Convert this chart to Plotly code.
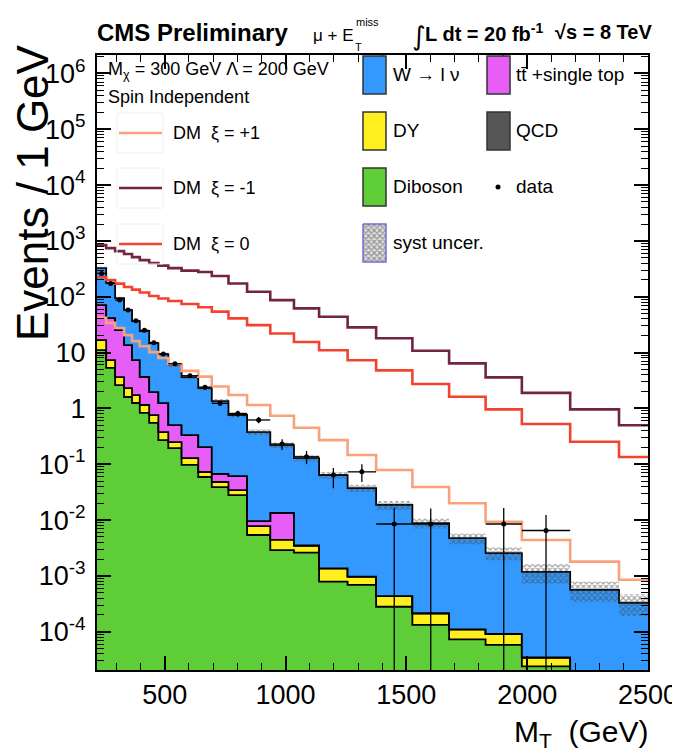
import numpy as np
import plotly.graph_objects as go

# ---------------- data ----------------
edges = [220, 258, 295, 332, 365, 397, 436, 474, 515, 570, 639, 695, 764, 841, 937,
         1035, 1139, 1257, 1375, 1525, 1677, 1828, 1978, 2178, 2380, 2580]

diboson = [11.1, 5.3, 2.6, 1.6, 1.25, 0.83, 0.55, 0.27, 0.195, 0.097, 0.059, 0.039, 0.028,
           0.0054, 0.0029, 0.0026, 0.00079, 0.00069, 0.00028, 0.000132, 0.000073, 0.000058,
           0.000024, 0.0, 0.0]
dy = [5.6, 2.05, 1.02, 0.71, 0.48, 0.32, 0.21, 0.106, 0.054, 0.032, 0.0135, 0.009, 0.0064,
      0.0024, 0.0015, 0.0009, 0.00057, 0.00028, 0.000155, 0.000082, 0.000037, 0.000033,
      0.0000105, 0.0, 0.0]
ttbar = [54, 34, 21.7, 11.3, 5.6, 2.5, 1.2, 0.87, 0.254, 0.204, 0.13, 0.019, 0.027,
         0.0018, 0.009, 0.0, 0.0, 0.0, 0.0, 0.0, 0.0, 0.0, 0.0, 0.0, 0.0]
qcd = [0.0, 0.0, 0.0, 0.0, 0.0, 0.0, 0.0, 0.0, 0.0, 0.0, 0.0, 0.0, 0.0,
       0.0, 0.0, 0.0, 0.0, 0.0, 0.0, 0.0, 0.0, 0.0, 0.0, 0.0, 0.0]
wlnu = [255, 135, 69, 44, 29.3, 20.7, 12.8, 8.15, 5.47, 3.31, 2.11, 1.28, 0.70, 0.367,
        0.207, 0.125, 0.0626, 0.0364, 0.0182, 0.0086, 0.00465, 0.00247, 0.00114, 0.00056,
        0.00033]
syst_rel = [0.06, 0.06, 0.06, 0.06, 0.06, 0.07, 0.07, 0.07, 0.08, 0.08, 0.09, 0.09, 0.10,
            0.11, 0.12, 0.13, 0.14, 0.15, 0.18, 0.20, 0.23, 0.26, 0.38, 0.40, 0.42]

data = [262, 173, 87, 58, 37, 25, 15, 9.4, 6.3, 3.85, 2.4, 1.23, 0.81, 0.62, 0.23, 0.136,
        0.064, 0.073, 0.0085, 0.0085, None, 0.0085, 0.0065, None, None]
data_err_up = [3, 2.2, 1.5, 1.3, 1.1, 0.8, 0.63, 0.48, 0.34, 0.24, 0.21, 0.13, 0.10, 0.08,
               0.05, 0.036, 0.022, 0.027, 0.0083, 0.0076, 0, 0.008, 0.0058, 0, 0]
data_err_dn = [3, 2.2, 1.5, 1.3, 1.1, 0.8, 0.63, 0.48, 0.34, 0.24, 0.21, 0.13, 0.10, 0.08,
               0.05, 0.036, 0.027, 0.025, 0.0085, 0.0085, 0, 0.0085, 0.0065, 0, 0]

dm_p1 = [42, 34, 27.5, 20.5, 16, 13, 10.2, 8, 6.2, 4.7, 3.7, 2.46, 1.74, 1.15, 0.74, 0.45,
         0.27, 0.146, 0.079, 0.039, 0.020, 0.0093, 0.0044, 0.0018, 0.00085]
dm_m1 = [841, 743, 657, 581, 513, 453, 401, 361, 326, 294, 277, 235, 173, 123, 87, 62, 43.8,
         28.3, 18, 10.8, 6.4, 3.6, 1.9, 0.96, 0.50]
dm_0 = [225, 199, 172, 149, 134, 119, 103, 93, 84, 74, 65, 54, 41, 31, 22, 15.5, 11, 7.3,
        4.8, 2.73, 1.62, 0.96, 0.525, 0.253, 0.135]

x_ticks = [500, 1000, 1500, 2000, 2500]
x_ticklabels = ["500", "1000", "1500", "2000", "2500"]
y_ticks = [1e-4, 1e-3, 1e-2, 1e-1, 1, 10, 1e2, 1e3, 1e4, 1e5, 1e6]
y_ticklabels = ["10<sup>-4</sup>", "10<sup>-3</sup>", "10<sup>-2</sup>", "10<sup>-1</sup>",
                "1", "10", "10<sup>2</sup>", "10<sup>3</sup>", "10<sup>4</sup>",
                "10<sup>5</sup>", "10<sup>6</sup>"]

# ---------------- styling ----------------
FONT = "Liberation Sans, Arial, sans-serif"
C_GREEN = "#5fcd37"
C_YELLOW = "#ffef1f"
C_MAG = "#e65ef5"
C_BLUE = "#3399ff"
C_QCD = "#555555"
C_P1 = "#f9a27a"
C_M1 = "#722445"
C_0 = "#f2432f"

# page (screenshot) pixel geometry of the plot frame; the page body has an 8px margin
OFF = 8
W_, H_ = 680 - OFF, 754 - OFF
L, R, T, B = 97, 648, 55, 670


def px(x):
    return (x - L) / (R - L)


def py(y):
    return (B - y) / (B - T)


def step(vals):
    v = [np.nan if a is None else a for a in vals]
    return v + [v[-1]]


e = np.array(edges, dtype=float)
centers = (e[:-1] + e[1:]) / 2
halfw = (e[1:] - e[:-1]) / 2

floor = 1e-10
c1 = np.array(diboson)
c2 = c1 + np.array(dy)
c3 = c2 + np.array(ttbar)
c4 = c3 + np.array(qcd)
c5 = c4 + np.array(wlnu)

fig = go.Figure()
fig.add_trace(go.Scatter(x=e, y=step(np.full(len(c1), floor)), mode="lines",
                         line=dict(width=0, shape="hv"), hoverinfo="skip"))
for cum, col in [(c1, C_GREEN), (c2, C_YELLOW), (c3, C_MAG), (c4, C_QCD), (c5, C_BLUE)]:
    fig.add_trace(go.Scatter(x=e, y=step(np.maximum(cum, floor)), mode="lines",
                             line=dict(color="black", width=1.8, shape="hv"),
                             fill="tonexty", fillcolor=col))

# systematic band
lo = c5 * (1 - np.array(syst_rel))
hi = c5 * (1 + np.array(syst_rel))
fig.add_trace(go.Scatter(x=e, y=step(lo), mode="lines", line=dict(width=0, shape="hv")))
fig.add_trace(go.Scatter(x=e, y=step(hi), mode="lines", line=dict(width=0, shape="hv"),
                         fill="tonexty", fillcolor="rgba(0,0,0,0)",
                         fillpattern=dict(shape="x", size=4, solidity=0.5,
                                          fgcolor="#444444", bgcolor="rgba(0,0,0,0)")))

# DM signal lines
for vals, col in [(dm_p1, C_P1), (dm_m1, C_M1), (dm_0, C_0)]:
    fig.add_trace(go.Scatter(x=e, y=step(vals), mode="lines",
                             line=dict(color=col, width=2.6, shape="hv")))

# data
fig.add_trace(go.Scatter(
    x=centers, y=data, mode="markers",
    marker=dict(color="black", size=5),
    error_x=dict(type="data", array=halfw, color="black", thickness=1.3, width=0),
    error_y=dict(type="data", array=data_err_up, arrayminus=data_err_dn, symmetric=False,
                 color="black", thickness=1.3, width=0)))

# ---------------- legend glyphs (helper axes = paper coordinates) ----------------
def box_xy(x0, y0, x1, y1):
    return [px(x0), px(x1), px(x1), px(x0), px(x0)], [py(y0), py(y0), py(y1), py(y1), py(y0)]


shapes = []
rows = [75, 131, 187, 243]
col1_x, col2_x = 363, 487
for (xx, yy, col) in [(col1_x, rows[0], C_BLUE), (col1_x, rows[1], C_YELLOW),
                      (col1_x, rows[2], C_GREEN), (col2_x, rows[0], C_MAG),
                      (col2_x, rows[1], C_QCD)]:
    shapes.append(dict(type="rect", xref="paper", yref="paper",
                       x0=px(xx), x1=px(xx + 23), y0=py(yy - 19), y1=py(yy + 19),
                       fillcolor=col, line=dict(color="#333333", width=1.5)))
bx, by = box_xy(col1_x, rows[3] - 19, col1_x + 23, rows[3] + 19)
fig.add_trace(go.Scatter(x=bx, y=by, xaxis="x2", yaxis="y2", mode="lines", fill="toself",
                         fillcolor="rgba(0,0,0,0)", line=dict(color="#7070d0", width=1.5),
                         fillpattern=dict(shape="x", size=4, solidity=0.5, fgcolor="#444444",
                                          bgcolor="#e0e0e0")))
fig.add_trace(go.Scatter(x=[px(498)], y=[py(187)], xaxis="x2", yaxis="y2", mode="markers",
                         marker=dict(color="black", size=5)))

dm_rows = [(133, C_P1, "DM  ξ = +1"), (188, C_M1, "DM  ξ = -1"), (244, C_0, "DM  ξ = 0")]
annotations = []
for yy, col, txt in dm_rows:
    shapes.append(dict(type="rect", xref="paper", yref="paper", x0=px(117), x1=px(163),
                       y0=py(yy - 20), y1=py(yy + 20), line=dict(color="#eeeeee", width=1),
                       fillcolor="rgba(0,0,0,0)"))
    shapes.append(dict(type="line", xref="paper", yref="paper", x0=px(119), x1=px(162),
                       y0=py(yy), y1=py(yy), line=dict(color=col, width=2.6)))
    annotations.append(dict(text=txt, x=px(171), y=py(yy), xref="paper", yref="paper",
                            xanchor="left", yanchor="middle", showarrow=False,
                            font=dict(family=FONT, size=18, color="black")))

leg_txt = [(391, rows[0], "W → l ν"), (391, rows[1], "DY"), (391, rows[2], "Diboson"),
           (391, rows[3], "syst uncer."), (514, rows[0], "tt̄ +single top"),
           (514, rows[1], "QCD"), (514, rows[2], "data")]
for xx, yy, txt in leg_txt:
    annotations.append(dict(text=txt, x=px(xx), y=py(yy), xref="paper", yref="paper",
                            xanchor="left", yanchor="middle", showarrow=False,
                            font=dict(family=FONT, size=19, color="black")))

annotations += [
    dict(text="M<sub>χ</sub> = 300 GeV Λ = 200 GeV", x=px(106), y=py(70), xanchor="left"),
    dict(text="Spin Independent", x=px(106), y=py(97), xanchor="left"),
]
for a in annotations[-2:]:
    a.update(xref="paper", yref="paper", yanchor="middle", showarrow=False,
             font=dict(family=FONT, size=18, color="black"))

top = [
    dict(text="<b>CMS Preliminary</b>", x=px(95), y=py(32), xanchor="left",
         font=dict(family=FONT, size=24, color="black")),
    dict(text="μ + E", x=px(311), y=py(35), xanchor="left",
         font=dict(family=FONT, size=17, color="black")),
    dict(text="miss", x=px(354), y=py(22), xanchor="left",
         font=dict(family=FONT, size=11, color="black")),
    dict(text="T", x=px(353), y=py(47), xanchor="left",
         font=dict(family=FONT, size=11, color="black")),
    dict(text="∫", x=px(410), y=py(36), xanchor="left",
         font=dict(family="DejaVu Sans", size=26, color="black")),
    dict(text="<b>L dt = 20 fb<sup>-1</sup></b>", x=px(423), y=py(32), xanchor="left",
         font=dict(family=FONT, size=20, color="black")),
    dict(text="<b>√s = 8 TeV</b>", x=px(654), y=py(32), xanchor="right",
         font=dict(family=FONT, size=20, color="black")),
    dict(text="Events / 1 GeV", x=px(32), y=py(193), xanchor="center", textangle=-90,
         font=dict(family=FONT, size=44, color="black")),
    dict(text="M<sub>T</sub>  (GeV)", x=px(651), y=py(733), xanchor="right",
         font=dict(family=FONT, size=30, color="black")),
]
for a in top:
    a.update(xref="paper", yref="paper", yanchor="middle", showarrow=False)
annotations += top

minor_y = [m * 10.0 ** k for k in range(-5, 7) for m in range(2, 10)]

fig.update_layout(
    width=W_, height=H_,
    margin=dict(l=L - OFF, r=W_ - (R - OFF), t=T - OFF, b=H_ - (B - OFF), pad=0,
                autoexpand=False),
    plot_bgcolor="white", paper_bgcolor="white", showlegend=False,
    shapes=shapes, annotations=annotations,
    xaxis=dict(range=[220, 2500], tickmode="array", tickvals=x_ticks, ticktext=x_ticklabels,
               ticks="inside", ticklen=14, tickwidth=1.5, tickcolor="black",
               minor=dict(tickmode="linear", tick0=0, dtick=100, ticks="inside", ticklen=7,
                          tickwidth=1.2, tickcolor="black"),
               showline=True, linecolor="black", linewidth=2, mirror="ticks",
               showgrid=False, zeroline=False, automargin=False,
               ticklabeloverflow="allow",
               tickfont=dict(family=FONT, size=27, color="black")),
    yaxis=dict(type="log", range=[-4.686, 6.33], tickmode="array", tickvals=y_ticks,
               ticktext=y_ticklabels, ticks="inside", ticklen=14, tickwidth=1.5,
               tickcolor="black",
               minor=dict(tickmode="array", tickvals=minor_y, ticks="inside", ticklen=7,
                          tickwidth=1.2, tickcolor="black"),
               showline=True, linecolor="black", linewidth=2, mirror="ticks",
               showgrid=False, zeroline=False, ticklabelstandoff=4, automargin=False,
               tickfont=dict(family=FONT, size=27, color="black")),
    xaxis2=dict(overlaying="x", range=[0, 1], visible=False, fixedrange=True,
                automargin=False),
    yaxis2=dict(overlaying="y", range=[0, 1], visible=False, fixedrange=True,
                automargin=False),
)

fig.write_html("out.html")
